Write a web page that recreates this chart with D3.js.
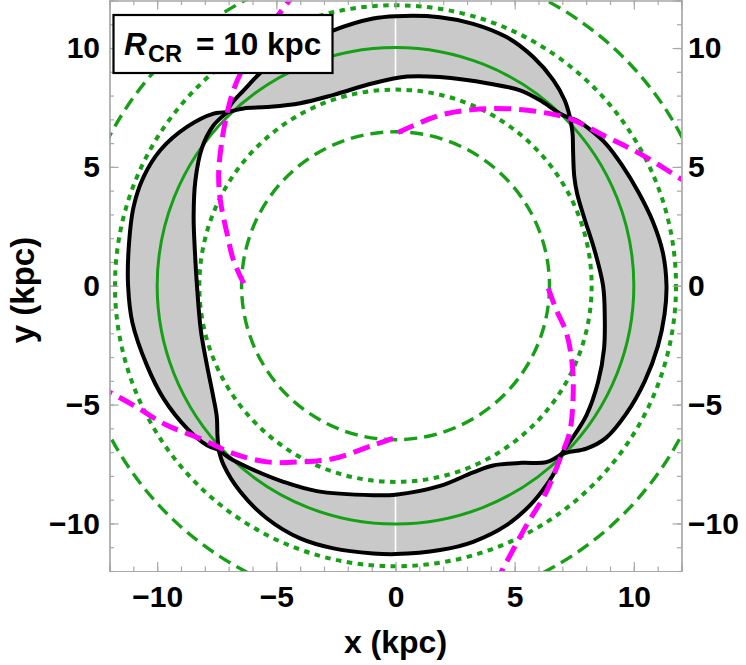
<!DOCTYPE html>
<html>
<head>
<meta charset="utf-8">
<script src="https://cdn.jsdelivr.net/npm/d3@7"></script>
<style>
  body { margin: 0; background: #fff; }
  svg { display: block; }
</style>
</head>
<body>
<svg width="746" height="665"></svg>
<script>
// tick values (kpc)
var majorTicks = [-10, -5, 0, 5, 10];
var minorTicks = d3.range(-12, 13, 1);

// resonance rings (kpc)
var corotationRadii = [10];
var dottedRadii = [8.23, 11.77];
var dashedRadii = [6.46, 13.54];

// outer edge of the grey band, one piece per quadrant, pinch to pinch
var outerRight = [[6.96,-7.08],[7.31,-6.99],[8.01,-6.85],[8.82,-6.41],[9.69,-5.37],[10.46,-4.01],[11.01,-2.54],[11.29,-1.19],[11.37,0],[11.22,1.38],[10.8,2.69],[10.2,3.92],[9.51,5.06],[8.84,5.96],[8.06,6.65],[7.59,6.96],[7.33,7.05]];
var outerTop = [[7.33,7.05],[7.1,7.8],[6.63,8.64],[5.78,9.62],[4.66,10.46],[3.26,11.02],[1.86,11.3],[0,11.34],[-0.94,11.24],[-2.6,10.74],[-4.0,10.04],[-5.4,9.2],[-6.37,8.22],[-6.93,7.59],[-7.05,7.3]];
var outerLeft = [[-7.05,7.3],[-7.63,7.24],[-8.75,6.68],[-9.87,5.7],[-10.57,4.58],[-10.99,3.32],[-11.2,1.5],[-11.22,0],[-11.04,-1.55],[-10.43,-3.35],[-9.73,-4.75],[-8.75,-6.0],[-7.91,-6.71],[-7.42,-6.9]];
var outerBottom = [[-7.42,-6.9],[-7.21,-7.55],[-6.51,-8.67],[-5.39,-9.79],[-4.0,-10.63],[-2.6,-11.05],[-0.94,-11.26],[0,-11.29],[1.87,-11.12],[3.26,-10.77],[4.66,-10.07],[5.65,-9.23],[6.33,-8.39],[6.75,-7.69],[6.96,-7.08]];

// inner edge of the grey band
var innerRight = [[6.96,-7.08],[7.31,-6.57],[8.01,-5.45],[8.5,-4.05],[8.75,-2.65],[8.78,-1.3],[8.71,0],[8.35,1.5],[7.92,2.85],[7.62,3.88],[7.5,4.6],[7.45,5.7],[7.43,6.4],[7.33,7.05]];
var innerTop = [[7.33,7.05],[6.91,7.24],[6.07,7.8],[5.23,8.22],[3.96,8.5],[1.86,8.78],[0.5,8.8],[-0.94,8.52],[-2.6,8.03],[-4.0,7.68],[-5.39,7.52],[-6.37,7.46],[-7.05,7.3]];
var innerLeft = [[-7.05,7.3],[-7.63,6.75],[-8.12,5.8],[-8.4,4.4],[-8.47,2.9],[-8.42,1.5],[-8.33,0],[-8.17,-1.86],[-7.91,-3.35],[-7.65,-4.65],[-7.5,-5.5],[-7.47,-6.3],[-7.42,-6.9]];
var innerBottom = [[-7.42,-6.9],[-6.93,-7.27],[-6.09,-7.69],[-4.7,-8.25],[-3.3,-8.64],[-0.94,-8.81],[0,-8.79],[1.87,-8.42],[3.26,-7.85],[4.1,-7.56],[5.3,-7.45],[6.33,-7.42],[6.96,-7.08]];

// magenta dashed arms
var armTopRight = [[0.11,6.45],[1.86,7.17],[3.26,7.41],[4.66,7.45],[6.07,7.31],[7.31,7.03],[8.85,6.26],[10.25,5.56],[12.2,4.35]];
var armTopLeft = [[-6.37,0.1],[-6.8,1.08],[-7.07,2.2],[-7.35,3.6],[-7.42,4.72],[-7.28,6.12],[-7.07,7.24],[-6.8,8.22],[-6.37,9.2],[-5.39,10.74],[-4.3,12.2]];
var armBottomLeft = [[-0.1,-6.42],[-0.94,-6.71],[-2.6,-7.27],[-4.0,-7.41],[-5.39,-7.41],[-6.8,-7.06],[-8.19,-6.43],[-9.59,-5.87],[-10.99,-5.03],[-12.2,-4.37]];
var armBottomRight = [[6.41,-0.11],[6.75,-1.02],[7.17,-1.98],[7.42,-3.35],[7.45,-4.75],[7.31,-6.15],[6.96,-7.13],[6.33,-8.67],[5.5,-10.07],[4.35,-12.2]];

var svg = d3.select("svg");
var font = "'Liberation Sans', Arial, sans-serif";

var x = d3.scaleLinear().domain([-12, 12]).range([109.5, 681.5]);
var y = d3.scaleLinear().domain([-12, 12]).range([571, 0.5]);

var green = "#16a016";

svg.append("clipPath").attr("id", "plotclip")
  .append("rect")
    .attr("x", x(-12)).attr("y", y(12))
    .attr("width", x(12) - x(-12)).attr("height", y(-12) - y(12));

var line = d3.line()
  .x(function(d) { return x(d[0]); })
  .y(function(d) { return y(d[1]); })
  .curve(d3.curveCatmullRom.alpha(0.5));

// glue quadrant pieces into one closed path
function joinSegments(segs) {
  return segs.map(function(s, i) {
    var d = line(s);
    return i === 0 ? d : d.replace(/^M/, "L");
  }).join("") + "Z";
}

var outerSegs = [outerRight, outerTop, outerLeft, outerBottom];
var innerSegs = [innerRight, innerTop, innerLeft, innerBottom];
var bandPath = joinSegments(outerSegs) + joinSegments(innerSegs);

svg.append("clipPath").attr("id", "bandclip")
  .append("path")
    .attr("d", bandPath)
    .attr("clip-rule", "evenodd");

var g = svg.append("g").attr("clip-path", "url(#plotclip)");

g.append("path")
  .attr("d", bandPath)
  .attr("fill", "#c9c9c9")
  .attr("fill-rule", "evenodd");

// thin white seam at x = 0 inside the band
g.append("line")
  .attr("clip-path", "url(#bandclip)")
  .attr("x1", x(0)).attr("x2", x(0))
  .attr("y1", y(-12)).attr("y2", y(12))
  .attr("stroke", "#fff")
  .attr("stroke-width", 1.6);

function rings(radii, dash, width) {
  g.selectAll(null)
    .data(radii)
    .enter()
    .append("circle")
      .attr("cx", x(0))
      .attr("cy", y(0))
      .attr("r", function(d) { return x(d) - x(0); })
      .attr("fill", "none")
      .attr("stroke", green)
      .attr("stroke-width", width)
      .attr("stroke-dasharray", dash);
}
rings(dashedRadii, "13,7", 3.4);
rings(dottedRadii, "5.5,5.5", 4);
rings(corotationRadii, null, 3);

g.selectAll(".edge")
  .data(outerSegs.concat(innerSegs))
  .enter()
  .append("path")
    .attr("class", "edge")
    .attr("d", line)
    .attr("fill", "none")
    .attr("stroke", "#000")
    .attr("stroke-width", 4)
    .attr("stroke-linejoin", "round");

g.selectAll(".arm")
  .data([armTopRight, armTopLeft, armBottomLeft, armBottomRight])
  .enter()
  .append("path")
    .attr("class", "arm")
    .attr("d", line)
    .attr("fill", "none")
    .attr("stroke", "#ff00ff")
    .attr("stroke-width", 5)
    .attr("stroke-dasharray", "17,8");

// frame and ticks (ticks point inwards)
var frameColor = "#a8a8a8";
function drawAxis(axis, tx, ty, labels) {
  var a = svg.append("g")
    .attr("transform", "translate(" + tx + "," + ty + ")")
    .call(axis.tickValues(minorTicks).tickSize(-4.5).tickFormat(""));
  var b = svg.append("g")
    .attr("transform", "translate(" + tx + "," + ty + ")")
    .call(labels);
  [a, b].forEach(function(s) {
    s.select(".domain").attr("stroke", frameColor).attr("stroke-width", 1.2);
    s.selectAll(".tick line").attr("stroke", frameColor).attr("stroke-width", 1.2);
  });
  b.selectAll("text")
    .attr("fill", "#000")
    .attr("font-family", font)
    .attr("font-weight", "bold")
    .attr("font-size", 30);
  return b;
}

drawAxis(d3.axisBottom(x), 0, y(-12),
  d3.axisBottom(x).tickValues(majorTicks).tickSize(-9).tickPadding(15));
drawAxis(d3.axisTop(x), 0, y(12),
  d3.axisTop(x).tickValues(majorTicks).tickSize(-9).tickFormat(""));
drawAxis(d3.axisLeft(y), x(-12), 0,
  d3.axisLeft(y).tickValues(majorTicks).tickSize(-9).tickPadding(9.5));
drawAxis(d3.axisRight(y), x(12), 0,
  d3.axisRight(y).tickValues(majorTicks).tickSize(-9).tickPadding(6.5));

// axis titles
svg.append("text")
  .attr("x", x(0))
  .attr("y", 653)
  .attr("text-anchor", "middle")
  .attr("font-family", font)
  .attr("font-weight", "bold")
  .attr("font-size", 32)
  .text("x (kpc)");

svg.append("text")
  .attr("transform", "translate(34,290) rotate(-90)")
  .attr("text-anchor", "middle")
  .attr("font-family", font)
  .attr("font-weight", "bold")
  .attr("font-size", 33)
  .text("y (kpc)");

// label box
svg.append("rect")
  .attr("x", 113.5).attr("y", 15)
  .attr("width", 219).attr("height", 58)
  .attr("fill", "#fff")
  .attr("stroke", "#000")
  .attr("stroke-width", 2.2);

var lab = svg.append("text")
  .attr("y", 55)
  .attr("font-family", font)
  .attr("font-weight", "bold")
  .attr("font-size", 31.5);
lab.append("tspan").attr("x", 124).attr("font-style", "italic").text("R");
lab.append("tspan").attr("x", 148).attr("y", 62).attr("font-size", 23.5).text("CR");
lab.append("tspan").attr("x", 196).attr("y", 55).text("= 10 kpc");
</script>
</body>
</html>
